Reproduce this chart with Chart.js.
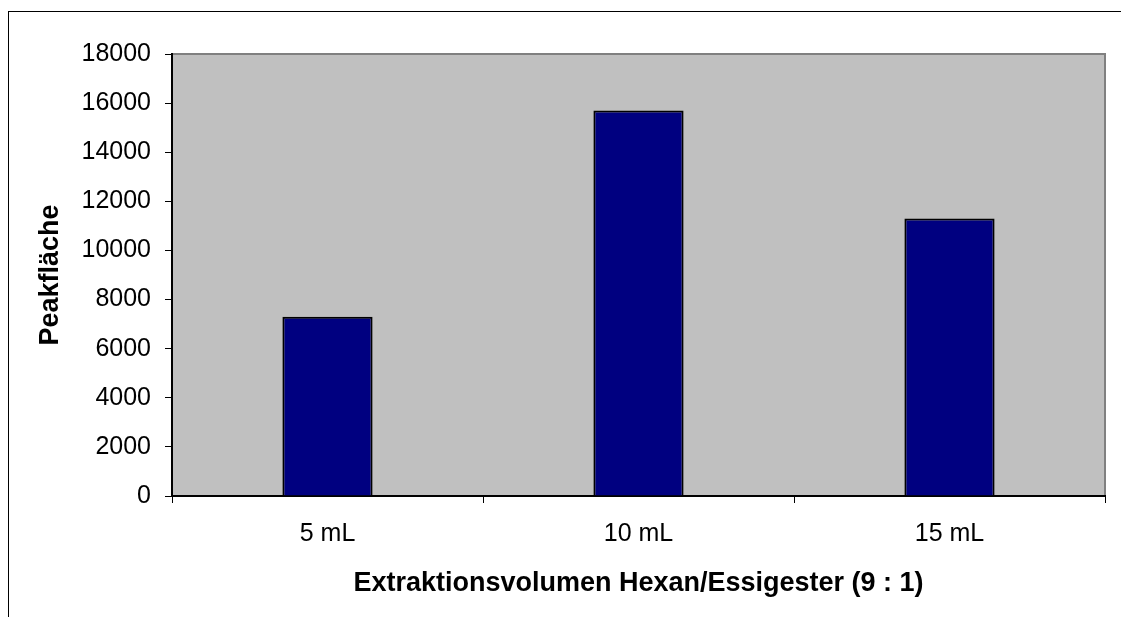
<!DOCTYPE html>
<html>
<head>
<meta charset="utf-8">
<script src="https://cdn.jsdelivr.net/npm/chart.js@4"></script>
<style>
  body { margin: 0; background: #fff; }
  #rahmen { position: absolute; left: 8px; top: 11px; width: 1113px; height: 606px; border-left: 1px solid #000; border-top: 1px solid #000; box-sizing: border-box; }
  #grafico { position: absolute; left: 0; top: 0; }
</style>
</head>
<body>
<div id="rahmen"></div>
<canvas id="grafico" width="1121" height="617"></canvas>
<script>
const volumen = ["5 mL", "10 mL", "15 mL"];
const peakflaeche = [7300, 15700, 11300];
const yMin = 0;
const yMax = 18000;
const yPaso = 2000;

// grauer Plotbereich mit Rahmen oben/rechts
const fondoPlot = {
  id: "fondoPlot",
  beforeDraw(chart) {
    const { ctx, chartArea: a } = chart;
    ctx.save();
    ctx.fillStyle = "#C0C0C0";
    ctx.fillRect(a.left, a.top, a.right - a.left, a.bottom - a.top);
    ctx.strokeStyle = "#808080";
    ctx.lineWidth = 2;
    ctx.strokeRect(a.left, a.top, a.right - a.left, a.bottom - a.top);
    ctx.restore();
  }
};

const ctx = document.getElementById("grafico").getContext("2d");

new Chart(ctx, {
  type: "bar",
  data: {
    labels: volumen,
    datasets: [{
      data: peakflaeche,
      backgroundColor: "#000080",
      borderColor: "#000",
      borderWidth: 2,
      barPercentage: 0.29,
      categoryPercentage: 1
    }]
  },
  options: {
    responsive: false,
    devicePixelRatio: 1,
    animation: false,
    layout: { padding: { left: 0, top: 54, right: 16, bottom: 0 } },
    plugins: {
      legend: { display: false },
      tooltip: { enabled: false }
    },
    scales: {
      x: {
        afterFit: (scale) => { scale.height = 121; },
        grid: { drawOnChartArea: false, color: "#000", tickLength: 7, offset: true },
        border: { color: "#000", width: 2 },
        ticks: { color: "#000", padding: 16, font: { family: "Arial, 'Liberation Sans'", size: 25 } },
        title: {
          display: true,
          text: "Extraktionsvolumen Hexan/Essigester (9 : 1)",
          color: "#000",
          font: { family: "Arial, 'Liberation Sans'", size: 27, weight: "bold" },
          padding: { top: 0, bottom: 17 }
        }
      },
      y: {
        min: yMin,
        max: yMax,
        afterFit: (scale) => { scale.width = 172; },
        grid: { drawOnChartArea: false, color: "#000", tickLength: 7 },
        border: { color: "#000", width: 2 },
        ticks: {
          stepSize: yPaso,
          color: "#000",
          padding: 14,
          font: { family: "Arial, 'Liberation Sans'", size: 25 },
          callback: (v) => String(v)
        },
        title: {
          display: true,
          text: "Peakfläche",
          color: "#000",
          font: { family: "Arial, 'Liberation Sans'", size: 27, weight: "bold" },
          padding: { top: 34, bottom: 0 }
        }
      }
    }
  },
  plugins: [fondoPlot]
});
</script>
</body>
</html>
